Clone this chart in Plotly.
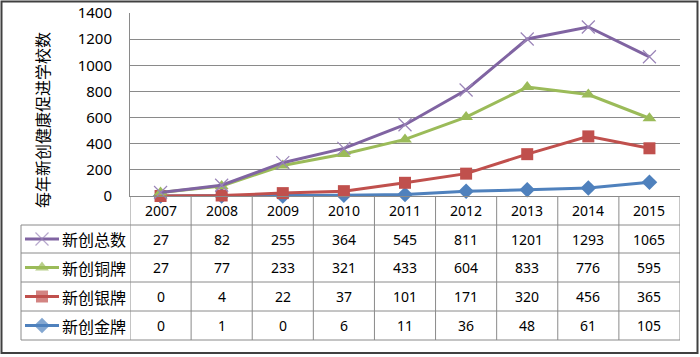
import plotly.graph_objects as go

years = ["2007", "2008", "2009", "2010", "2011", "2012", "2013", "2014", "2015"]
series_names = ["新创总数", "新创铜牌", "新创银牌", "新创金牌"]
total = [27, 82, 255, 364, 545, 811, 1201, 1293, 1065]
bronze = [27, 77, 233, 321, 433, 604, 833, 776, 595]
silver = [0, 4, 22, 37, 101, 171, 320, 456, 365]
gold = [0, 1, 0, 6, 11, 36, 48, 61, 105]
y_ticks = [0, 200, 400, 600, 800, 1000, 1200, 1400]
y_title = "每年新创健康促进学校数"

W, H = 700, 357
PL, PR, PT, PB = 130, 680, 13, 196
TL = 21
row_edges = [196, 225, 253, 282, 311, 340]

styles = [
    dict(color="#8064A2", symbol="x-thin", size=13, mline=dict(color="#9a84b8", width=1.2)),
    dict(color="#9BBB59", symbol="triangle-up", size=12, mline=dict(width=0)),
    dict(color="#C0504D", symbol="square", size=12, mline=dict(width=0)),
    dict(color="#4F81BD", symbol="diamond", size=12, mline=dict(width=0)),
]
values = [total, bronze, silver, gold]

NUMFONT = "Noto Sans, Liberation Sans, sans-serif"
CJKFONT = "Noto Sans CJK SC, sans-serif"
GRID = "#8a8a8a"

fig = go.Figure()
for name, vals, st in reversed(list(zip(series_names, values, styles))):
    fig.add_trace(go.Scatter(
        x=years, y=vals, name=name, mode="lines+markers",
        line=dict(color=st["color"], width=3),
        marker=dict(symbol=st["symbol"], size=st["size"], color=st["color"], line=st["mline"]),
        xaxis="x", yaxis="y", showlegend=False, cliponaxis=False,
    ))

for i, (name, st) in enumerate(zip(series_names, styles)):
    cy = (row_edges[i + 1] + row_edges[i + 2]) / 2
    fig.add_trace(go.Scatter(
        x=[25, 42, 59], y=[cy, cy, cy], mode="lines+markers",
        line=dict(color=st["color"], width=3),
        marker=dict(symbol=st["symbol"], size=[0, st["size"], 0], color=st["color"], line=st["mline"]),
        xaxis="x2", yaxis="y2", showlegend=False, hoverinfo="skip",
    ))

shapes = []
shapes.append(dict(type="rect", xref="x2", yref="y2", x0=1.5, y0=1.5, x1=697.5, y1=353,
                   line=dict(color="#404040", width=2)))
for ye in row_edges[1:]:
    shapes.append(dict(type="line", xref="x2", yref="y2", x0=TL, x1=PR, y0=ye, y1=ye,
                       line=dict(color=GRID, width=1)))
shapes.append(dict(type="line", xref="x2", yref="y2", x0=TL, x1=TL, y0=row_edges[1], y1=row_edges[-1],
                   line=dict(color=GRID, width=1)))
for j in range(len(years) + 1):
    shapes.append(dict(type="line", xref="x", yref="y2", x0=j - 0.5, x1=j - 0.5,
                       y0=PB, y1=row_edges[-1], line=dict(color=GRID, width=1)))

annotations = []
for j, yr in enumerate(years):
    annotations.append(dict(x=j, y=(row_edges[0] + row_edges[1]) / 2, xref="x", yref="y2",
                            text=yr, showarrow=False, font=dict(family=NUMFONT, size=14, color="#000")))
for i, (name, vals) in enumerate(zip(series_names, values)):
    cy = (row_edges[i + 1] + row_edges[i + 2]) / 2
    annotations.append(dict(x=60, y=cy, xref="x2", yref="y2", text=name, xanchor="left",
                            showarrow=False, font=dict(family=CJKFONT, size=16, color="#000")))
    for j, v in enumerate(vals):
        annotations.append(dict(x=j, y=cy, xref="x", yref="y2", text=str(v), showarrow=False,
                                font=dict(family=NUMFONT, size=14, color="#000")))
annotations.append(dict(x=42, y=120, xref="x2", yref="y2", text=y_title, textangle=-90,
                        showarrow=False, font=dict(family=CJKFONT, size=16, color="#000")))

fig.update_layout(
    width=W, height=H, margin=dict(l=0, r=0, t=0, b=0, autoexpand=False),
    paper_bgcolor="white", plot_bgcolor="rgba(0,0,0,0)",
    xaxis=dict(domain=[PL / W, PR / W], range=[-0.5, len(years) - 0.5], type="category",
               showticklabels=False, showgrid=False, zeroline=False, anchor="y",
               showline=True, linecolor=GRID, linewidth=1, fixedrange=True, automargin=False),
    yaxis=dict(domain=[1 - PB / H, 1 - PT / H], range=[0, 1400], tickvals=y_ticks, anchor="x",
               showgrid=True, gridcolor=GRID, gridwidth=1, zeroline=False,
               showline=True, linecolor=GRID, linewidth=1, ticks="",
               ticklabelstandoff=14, automargin=False, fixedrange=True,
               tickfont=dict(family=NUMFONT, size=15, color="#000")),
    xaxis2=dict(domain=[0, 1], range=[0, W], visible=False, anchor="y2", fixedrange=True),
    yaxis2=dict(domain=[0, 1], range=[H, 0], visible=False, anchor="x2", fixedrange=True),
    shapes=shapes, annotations=annotations,
)

fig.write_html("out.html", config={"displayModeBar": False},
               post_script="document.body.style.margin='0';document.body.style.overflow='hidden';")
